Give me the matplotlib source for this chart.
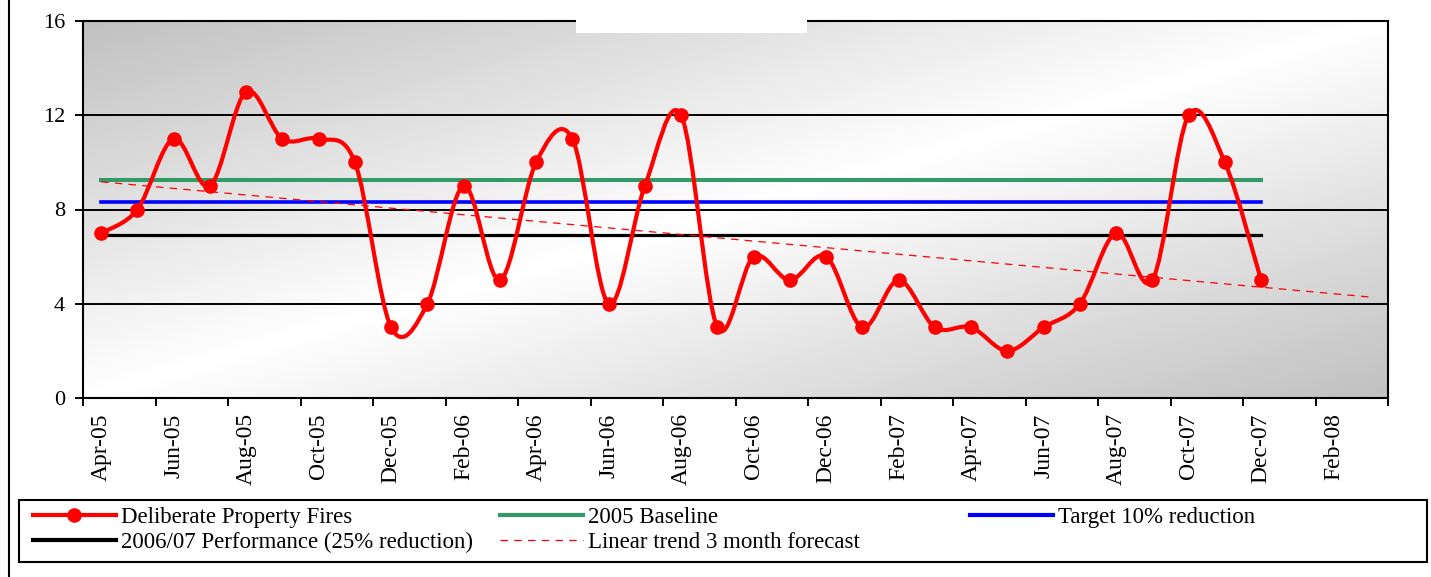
import numpy as np
import matplotlib
matplotlib.use("Agg")
import matplotlib.pyplot as plt
from matplotlib.lines import Line2D
from matplotlib.patches import PathPatch, Rectangle
from matplotlib.path import Path

plt.rcParams["font.family"] = ["Liberation Serif", "DejaVu Serif"]

# Monthly category axis, Apr-05 .. Mar-08
MONTHS = [
    "Apr-05", "May-05", "Jun-05", "Jul-05", "Aug-05", "Sep-05", "Oct-05", "Nov-05",
    "Dec-05", "Jan-06", "Feb-06", "Mar-06", "Apr-06", "May-06", "Jun-06", "Jul-06",
    "Aug-06", "Sep-06", "Oct-06", "Nov-06", "Dec-06", "Jan-07", "Feb-07", "Mar-07",
    "Apr-07", "May-07", "Jun-07", "Jul-07", "Aug-07", "Sep-07", "Oct-07", "Nov-07",
    "Dec-07", "Jan-08", "Feb-08", "Mar-08",
]
FIRES = [7, 8, 11, 9, 13, 11, 11, 10, 3, 4, 9, 5, 10, 11, 4, 9, 12, 3, 6, 5, 6,
         3, 5, 3, 3, 2, 3, 4, 7, 5, 12, 10, 5]
BASELINE = 9.25
TARGET = BASELINE * 0.90
PERFORMANCE = BASELINE * 0.75
FORECAST_MONTHS = 3

RED = "#ff0000"
GREEN = "#339966"
BLUE = "#0000ff"

W, H = 1431, 577
fig = plt.figure(figsize=(W / 100, H / 100), dpi=100)
ax = fig.add_axes([83 / W, 1 - 398 / H, (1388 - 83) / W, (398 - 21) / H])

x = np.arange(len(FIRES))
n_cat = len(MONTHS)

# diagonal grey -> white -> grey fill of the plot area
gu = np.linspace(0, 1, 400)
gv = np.linspace(1, 0, 200)
U, V = np.meshgrid(gu, gv)
shade = 1.0 - (1.0 - 192 / 255) * np.abs(U - V)
ax.imshow(shade, cmap="gray", vmin=0, vmax=1, extent=(0, 1, 0, 1),
          transform=ax.transAxes, aspect="auto", zorder=0, interpolation="bilinear")

for yv in (4, 8, 12):
    ax.axhline(yv, color="black", lw=1.4, zorder=1)

# reference levels span the recorded months only
ax.plot([x[0], x[-1]], [BASELINE] * 2, color=GREEN, lw=2.9, zorder=2)
ax.plot([x[0], x[-1]], [TARGET] * 2, color=BLUE, lw=2.6, zorder=2)
ax.plot([x[0], x[-1]], [PERFORMANCE] * 2, color="black", lw=2.3, zorder=2)

# smoothed monthly series (Catmull-Rom bezier through the points)
pts = np.column_stack([x, FIRES]).astype(float)
verts = [pts[0]]
codes = [Path.MOVETO]
for i in range(len(pts) - 1):
    p0 = pts[max(i - 1, 0)]
    p1 = pts[i]
    p2 = pts[i + 1]
    p3 = pts[min(i + 2, len(pts) - 1)]
    verts += [p1 + (p2 - p0) / 6, p2 - (p3 - p1) / 6, p2]
    codes += [Path.CURVE4] * 3
ax.add_patch(PathPatch(Path(verts, codes), facecolor="none", edgecolor=RED,
                       lw=3.0, capstyle="round", joinstyle="round", zorder=3))
ax.plot(x, FIRES, "o", color=RED, ms=9.5, zorder=4)

# linear trend extended three months ahead
slope, icpt = np.polyfit(x, FIRES, 1)
xt = np.array([0, len(FIRES) - 1 + FORECAST_MONTHS])
ax.plot(xt, icpt + slope * xt, color=RED, lw=0.9, dashes=(6, 5), zorder=5)

ax.set_xlim(-0.5, n_cat - 0.5)
ax.set_ylim(0, 16)
ax.set_yticks([0, 4, 8, 12, 16])
ax.tick_params(axis="y", length=6, width=1.4, labelsize=16, pad=7)
ax.set_xticks(np.arange(-0.5, n_cat, 2))
ax.set_xticklabels([])
ax.tick_params(axis="x", which="major", length=6, width=1.4, direction="out")
ax.set_xticks(np.arange(0, n_cat, 2), minor=True)
ax.set_xticklabels(MONTHS[::2], minor=True, rotation=90, fontsize=17)
ax.tick_params(axis="x", which="minor", length=0, pad=11)
for sp in ax.spines.values():
    sp.set_linewidth(1.5)

# title placeholder strip over the top edge
fig.patches.append(Rectangle((576 / W, 1 - 33 / H), (807 - 576) / W, 33 / H,
                             transform=fig.transFigure, facecolor="white",
                             edgecolor="none", zorder=10))
fig.lines.append(Line2D([9 / W, 9 / W], [0, 1], transform=fig.transFigure,
                        color="black", lw=1.5))

# legend box with three columns
fig.patches.append(Rectangle((19 / W, 1 - 562 / H), (1427 - 19) / W, (562 - 500) / H,
                             transform=fig.transFigure, facecolor="white",
                             edgecolor="black", lw=1.5, zorder=1))
h_fires = Line2D([], [], color=RED, lw=3.0, marker="o", ms=9.5)
h_perf = Line2D([], [], color="black", lw=3.0)
h_base = Line2D([], [], color=GREEN, lw=3.0)
h_trend = Line2D([], [], color=RED, lw=0.9, dashes=(6, 5))
h_target = Line2D([], [], color=BLUE, lw=3.0)
columns = [
    (33, [h_fires, h_perf], ["Deliberate Property Fires", "2006/07 Performance (25% reduction)"]),
    (500, [h_base, h_trend], ["2005 Baseline", "Linear trend 3 month forecast"]),
    (970, [h_target], ["Target 10% reduction"]),
]
for left, handles, labels in columns:
    leg = fig.legend(handles, labels, loc="upper left",
                     bbox_to_anchor=(left / W, 1 - 507 / H),
                     frameon=False, fontsize=16.5, handlelength=3.6,
                     handletextpad=0.25, borderpad=0, borderaxespad=0,
                     labelspacing=0.18)
    leg.set_zorder(11)

fig.savefig("out.png", dpi=100)
